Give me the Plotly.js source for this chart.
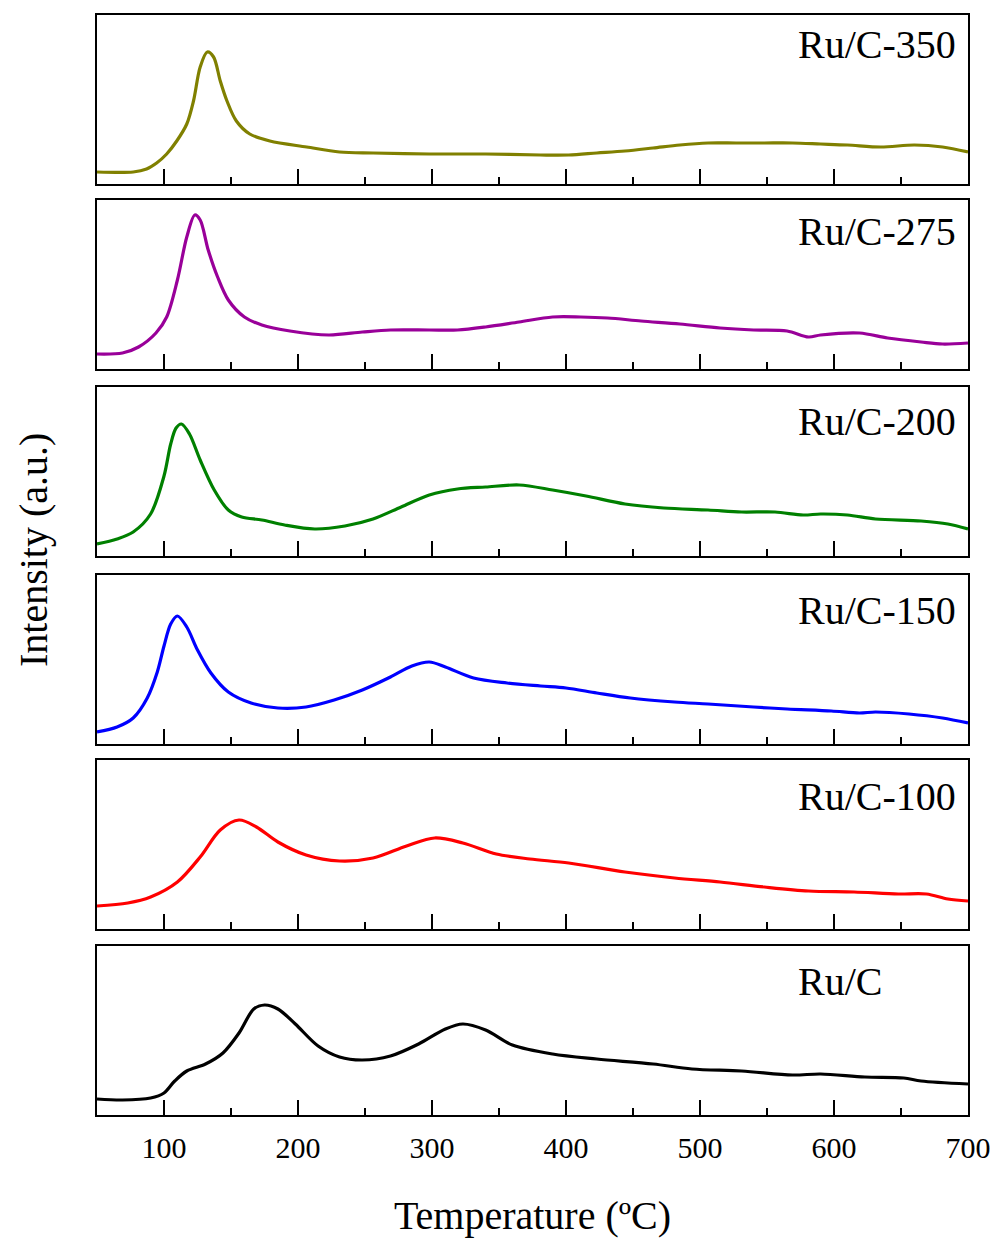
<!DOCTYPE html>
<html><head><meta charset="utf-8">
<script src="https://cdn.plot.ly/plotly-3.0.1.min.js"></script>
<style>html,body{margin:0;padding:0;background:#fff}#chart{width:994px;height:1238px}</style>
</head><body><div id="chart"></div>
<script>
// ---- data (intensity in arbitrary units) ----
const sampleNames = ["Ru/C-350", "Ru/C-275", "Ru/C-200", "Ru/C-150", "Ru/C-100", "Ru/C"];
const xTickValues = [100, 200, 300, 400, 500, 600, 700];

const tempRuC350 = [50, 77, 87, 94.5, 102, 109.5, 117, 122, 127, 132.3, 137, 142, 147, 154, 164, 179, 206.5, 231, 256, 298, 340, 381, 402, 423, 444, 465, 485, 506, 527, 548, 569, 590, 610, 635, 660, 681, 700];
const intRuC350 = [12, 12, 15, 21, 30, 43, 60, 83, 117, 132, 127, 103, 83, 63, 50, 43, 37, 32, 31, 30, 30, 29, 29, 31, 33, 36, 39, 41, 41, 41, 41, 40, 39, 37, 39, 37, 32];

const tempRuC275 = [50, 69, 81, 94, 102, 110, 117, 123, 127, 133, 140, 148, 160, 173, 194, 223, 248, 269, 298, 319, 340, 365, 390, 411, 431, 456, 485, 515, 540, 565, 581, 590, 619, 640, 665, 681, 700];
const intRuC275 = [15, 16, 22, 36, 52, 89, 132, 154, 149, 119, 92, 69, 52, 44, 38, 34, 37, 39, 39, 39, 42, 47, 52, 52, 51, 48, 45, 41, 39, 38, 32, 34, 36, 31, 27, 25, 26];

const tempRuC200 = [50, 65, 77, 90, 100, 105, 109, 113, 119, 127, 137.5, 148, 158, 173, 190, 212.5, 235, 256, 277, 298, 319, 340, 365, 390, 415, 444, 473, 506, 531, 556, 577, 590, 610, 631, 665, 685, 700];
const intRuC200 = [12, 17, 24, 42, 80, 112, 128, 132, 122, 96, 66, 46, 39, 36, 31, 27, 30, 37, 49, 61, 67, 69, 71, 66, 60, 52, 48, 46, 44, 44, 41, 42, 41, 37, 35, 32, 27];

const tempRuC150 = [50, 65, 77, 87.5, 95, 100, 105, 110, 117, 125, 135, 148, 165, 185, 206, 227, 248, 269, 285, 298, 310, 331, 356, 381, 400, 423, 448, 481, 506, 540, 565, 598, 619, 631, 656, 681, 700];
const intRuC150 = [12, 17, 26, 46, 72, 98, 120, 128, 117, 94, 71, 52, 41, 36, 37, 44, 54, 67, 78, 82, 77, 66, 61, 58, 56, 51, 46, 42, 40, 37, 35, 33, 31, 32, 30, 26, 21];

const tempRuC100 = [50, 73, 90, 110, 127, 142, 156, 169, 185, 206, 231, 256, 281, 302, 323, 348, 373, 402, 444, 481, 515, 548, 581, 615, 648, 669, 685, 700];
const intRuC100 = [23, 26, 32, 47, 72, 99, 109, 102, 87, 74, 68, 71, 83, 91, 86, 75, 70, 66, 57, 51, 47, 42, 38, 37, 35, 35, 30, 28];

const tempRuC = [50, 69, 90, 100, 108, 117, 131, 144, 156, 167, 175, 185, 198, 215, 231, 248, 269, 290, 310, 323, 340, 360, 390, 423, 465, 494, 531, 569, 590, 623, 652, 665, 700];
const intRuC = [16, 15, 17, 22, 34, 44, 51, 62, 82, 106, 110, 106, 91, 69, 58, 55, 59, 71, 86, 91, 85, 70, 61, 56, 51, 46, 44, 40, 41, 38, 37, 34, 31];

const seriesTemps = [tempRuC350, tempRuC275, tempRuC200, tempRuC150, tempRuC100, tempRuC];
const seriesInts = [intRuC350, intRuC275, intRuC200, intRuC150, intRuC100, intRuC];
const seriesColors = ["#808000", "#990099", "#008000", "#0000ff", "#ff0000", "#000000"];

// ---- layout geometry ----
const W = 994, H = 1238;
const mL = 97, mR = 26, mT = 15, mB = 123;
const plotH = H - mT - mB;
const panelPx = [[15, 184], [200, 369], [387, 556], [575, 744], [760, 929], [946, 1115]];
const py = Y => (H - mB - Y) / plotH;
const px = X => (X - mL) / (W - mL - mR);
const labelCenterY = [45, 231, 421, 610, 796, 981];
const FONT = "Liberation Serif, Times New Roman, serif";

const traces = [];
const layout = {
  width: W, height: H,
  margin: {l: mL, r: mR, t: mT, b: mB},
  paper_bgcolor: "#fff", plot_bgcolor: "#fff",
  showlegend: false,
  font: {family: FONT, color: "#000"},
  annotations: []
};

for (let i = 0; i < 6; i++) {
  const n = i + 1;
  const xa = n === 1 ? "x" : "x" + n;
  const ya = n === 1 ? "y" : "y" + n;
  traces.push({
    x: seriesTemps[i], y: seriesInts[i], name: sampleNames[i],
    type: "scatter", mode: "lines", xaxis: xa, yaxis: ya,
    line: {color: seriesColors[i], width: 3.2, shape: "spline", smoothing: 0.9},
    hoverinfo: "skip"
  });
  const isBottom = (i === 5);
  layout["xaxis" + (n === 1 ? "" : n)] = {
    anchor: ya, domain: [0, 1], range: [50, 700],
    showline: true, mirror: true, linecolor: "#000", linewidth: 2,
    showgrid: false, zeroline: false,
    tickmode: "array", tickvals: xTickValues,
    ticks: "inside", ticklen: 15, tickwidth: 2, tickcolor: "#000",
    minor: {ticks: "inside", ticklen: 7, tickwidth: 2, tickcolor: "#000", dtick: 50, tick0: 0, showgrid: false},
    showticklabels: isBottom,
    ticklabelstandoff: 5,
    tickfont: {family: FONT, size: 30, color: "#000"},
    title: isBottom ? {text: "Temperature (ºC)", font: {family: FONT, size: 40, color: "#000"}, standoff: 40} : {text: ""}
  };
  layout["yaxis" + (n === 1 ? "" : n)] = {
    anchor: xa, domain: [py(panelPx[i][1]), py(panelPx[i][0])], range: [0, 169],
    showline: true, mirror: true, linecolor: "#000", linewidth: 2,
    showgrid: false, zeroline: false, ticks: "", showticklabels: false
  };
  layout.annotations.push({
    text: sampleNames[i], xref: "paper", yref: "paper",
    x: px(796), y: py(labelCenterY[i]), xanchor: "left", yanchor: "middle",
    showarrow: false, font: {family: FONT, size: 40, color: "#000"}
  });
}
layout.annotations.push({
  text: "Intensity (a.u.)", xref: "paper", yref: "paper",
  x: px(33), y: py(550), xanchor: "center", yanchor: "middle", textangle: -90,
  showarrow: false, font: {family: FONT, size: 40, color: "#000"}
});

Plotly.newPlot("chart", traces, layout, {staticPlot: true, displayModeBar: false});
</script>
</body></html>
